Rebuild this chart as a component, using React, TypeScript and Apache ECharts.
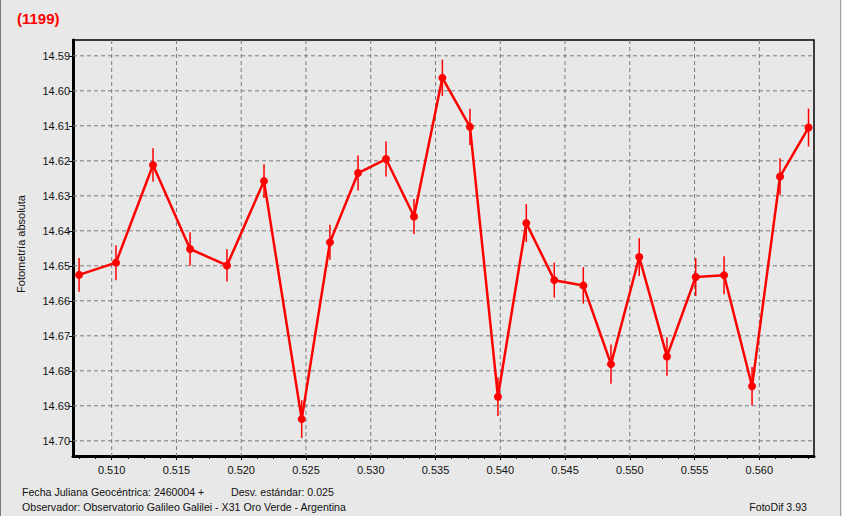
import React, { useEffect, useRef } from "react";
import * as echarts from "echarts";

// Julian date fraction (2460004 + x)
const jdFrac = [
  0.50748, 0.51033, 0.51319, 0.51605, 0.5189, 0.52176, 0.52467, 0.52685, 0.52902,
  0.53118, 0.53334, 0.53553, 0.53766, 0.53982, 0.54201, 0.54417, 0.54641, 0.54855,
  0.55073, 0.55287, 0.55509, 0.55728, 0.55944, 0.5616, 0.5638,
];
// absolute photometry (magnitude)
const magnitude = [
  14.6526, 14.6491, 14.6212, 14.6452, 14.6499, 14.6258, 14.6938, 14.6433, 14.6235,
  14.6195, 14.6359, 14.5963, 14.6103, 14.6874, 14.6378, 14.6541, 14.6556, 14.6781,
  14.6475, 14.6759, 14.6532, 14.6527, 14.6844, 14.6245, 14.6105,
];
// error bar half-lengths
const magError = [
  0.0048, 0.005, 0.0048, 0.0048, 0.0046, 0.0048, 0.0054, 0.005, 0.005, 0.005, 0.005,
  0.0052, 0.0052, 0.0055, 0.0054, 0.005, 0.0052, 0.0056, 0.0054, 0.0055, 0.0054,
  0.0054, 0.0055, 0.0052, 0.0054,
];

const xRange = [0.507012, 0.564223];
const yRange = [14.585486, 14.704343];
// tick labels
const xTicks = [0.51, 0.515, 0.52, 0.525, 0.53, 0.535, 0.54, 0.545, 0.55, 0.555, 0.56];
const yTicks = [14.59, 14.6, 14.61, 14.62, 14.63, 14.64, 14.65, 14.66, 14.67, 14.68, 14.69, 14.7];
const xMinorPerMajor = 4;

const titleText = "(1199)";
const yAxisTitle = "Fotometría absoluta";
const footerDate = "Fecha Juliana Geocéntrica: 2460004 +";
const footerStd = "Desv. estándar: 0.025";
const footerObs = "Observador: Observatorio Galileo Galilei - X31 Oro Verde - Argentina";
const footerApp = "FotoDif 3.93";

const FONT = "Liberation Sans, Arial, sans-serif";

function minorTicks(): number[] {
  const step = (xTicks[1] - xTicks[0]) / xMinorPerMajor;
  const out: number[] = [];
  for (let k = -12; k < (xTicks.length + 2) * xMinorPerMajor; k++) {
    const v = +(xTicks[0] + k * step).toFixed(6);
    if (v > xRange[0] && v < xRange[1]) out.push(v);
  }
  return out;
}

export default function App() {
  const ref = useRef<HTMLDivElement>(null);
  useEffect(() => {
    const chart = echarts.init(ref.current!, null, { renderer: "svg" });
    const pts = jdFrac.map((x, i) => [x, magnitude[i]]);
    const errs = jdFrac.map((x, i) => [x, magnitude[i] - magError[i], magnitude[i] + magError[i]]);
    // grid lines: [orientation (0 = vertical, 1 = horizontal), value]
    const gridData = [
      ...xTicks.map((v) => [0, v]),
      ...yTicks.map((v) => [1, v]),
    ];
    const tickLabelStyle = { color: "#111", fontFamily: FONT, fontSize: 11 };
    chart.setOption({
      animation: false,
      backgroundColor: "#E8E8E8",
      grid: {
        left: 73,
        right: 28,
        top: 40,
        bottom: 60,
        show: true,
        borderColor: "#000",
        borderWidth: 1.5,
        backgroundColor: "transparent",
      },
      xAxis: [
        {
          type: "value",
          min: xRange[0],
          max: xRange[1],
          axisLine: { show: true, onZero: false, lineStyle: { color: "#000", width: 3 } },
          axisTick: { show: true, length: 4, lineStyle: { color: "#000" }, customValues: xTicks },
          axisLabel: {
            ...tickLabelStyle,
            margin: 8,
            customValues: xTicks,
            formatter: (v: number) => v.toFixed(3),
          },
          splitLine: { show: false },
        },
        {
          type: "value",
          min: xRange[0],
          max: xRange[1],
          position: "bottom",
          axisLine: { show: false },
          axisTick: { show: true, length: 3, lineStyle: { color: "#000" }, customValues: minorTicks() },
          axisLabel: { show: false },
          splitLine: { show: false },
        },
      ],
      yAxis: {
        type: "value",
        inverse: true,
        min: yRange[0],
        max: yRange[1],
        axisLine: { show: true, onZero: false, lineStyle: { color: "#000", width: 3 } },
        axisTick: { show: true, length: 4, lineStyle: { color: "#000" }, customValues: yTicks },
        axisLabel: {
          ...tickLabelStyle,
          margin: 3,
          customValues: yTicks,
          formatter: (v: number) => v.toFixed(2),
        },
        splitLine: { show: false },
      },
      series: [
        {
          type: "custom",
          data: gridData,
          z: 1,
          silent: true,
          renderItem: (params: any, api: any) => {
            const o = api.value(0);
            const v = api.value(1);
            const a = o === 0 ? api.coord([v, yRange[0]]) : api.coord([xRange[0], v]);
            const b = o === 0 ? api.coord([v, yRange[1]]) : api.coord([xRange[1], v]);
            return {
              type: "line",
              shape: { x1: a[0], y1: a[1], x2: b[0], y2: b[1] },
              style: { stroke: "#7a7a7a", lineWidth: 1, lineDash: [4, 3] },
            };
          },
        },
        {
          type: "custom",
          data: errs,
          encode: { x: 0, y: [1, 2] },
          z: 2,
          clip: true,
          renderItem: (params: any, api: any) => {
            const x = api.value(0);
            const a = api.coord([x, api.value(1)]);
            const b = api.coord([x, api.value(2)]);
            return {
              type: "line",
              shape: { x1: a[0], y1: a[1], x2: b[0], y2: b[1] },
              style: { stroke: "#FF0000", lineWidth: 1.5 },
            };
          },
        },
        {
          type: "line",
          data: pts,
          z: 3,
          symbol: "circle",
          symbolSize: 8,
          itemStyle: { color: "#FF0000" },
          lineStyle: { color: "#FF0000", width: 2.5 },
        },
      ],
      graphic: [
        { type: "rect", shape: { x: 0, y: 0, width: 1, height: 516 }, style: { fill: "#7a7a7a" }, silent: true },
        { type: "rect", shape: { x: 840, y: 0, width: 1, height: 516 }, style: { fill: "#a0a0a0" }, silent: true },
        {
          type: "text",
          x: 17,
          y: 18,
          style: { text: titleText, fill: "#FF0000", font: `bold 15px ${FONT}`, verticalAlign: "middle" },
        },
        {
          type: "text",
          x: 21,
          y: 244,
          rotation: Math.PI / 2,
          style: { text: yAxisTitle, fill: "#111", font: `11px ${FONT}`, align: "center", verticalAlign: "middle" },
        },
        {
          type: "text",
          x: 22,
          y: 492,
          style: { text: footerDate, fill: "#111", font: `10.6px ${FONT}`, verticalAlign: "middle" },
        },
        {
          type: "text",
          x: 231,
          y: 492,
          style: { text: footerStd, fill: "#111", font: `10.6px ${FONT}`, verticalAlign: "middle" },
        },
        {
          type: "text",
          x: 22,
          y: 507,
          style: { text: footerObs, fill: "#111", font: `10.6px ${FONT}`, verticalAlign: "middle" },
        },
        {
          type: "text",
          x: 807,
          y: 507,
          style: { text: footerApp, fill: "#111", font: `10.6px ${FONT}`, align: "right", verticalAlign: "middle" },
        },
      ],
    });
    return () => chart.dispose();
  }, []);
  return <div ref={ref} style={{ position: "fixed", left: 0, top: 0, width: 842, height: 516 }} />;
}
